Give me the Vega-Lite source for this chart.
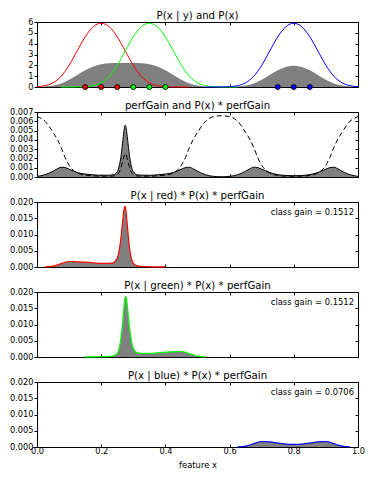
{
  "$schema": "https://vega.github.io/schema/vega-lite/v6.json",
  "padding": {"left": 9, "top": 10, "right": 5, "bottom": 5},
  "bounds": "flush",
  "spacing": 25,
  "config": {
    "font": "DejaVu Sans",
    "view": {"stroke": null},
    "axis": {"domain": true, "domainColor": "black", "domainWidth": 1, "zindex": 1, "grid": false, "tickColor": "black", "tickWidth": 1, "labelColor": "black", "labelFont": "DejaVu Sans", "labelFontSize": 8.2, "titleFont": "DejaVu Sans", "titleFontSize": 8.4, "titleFontWeight": "normal", "titleColor": "black", "labelFlush": false, "labelOverlap": false},
    "title": {"font": "DejaVu Sans", "fontSize": 10.2, "fontWeight": "normal", "color": "black", "anchor": "middle", "frame": "group", "offset": -4}
  },
  "datasets": {
    "dens": [
      {"x": 0, "px": 0.0101, "r": 0.0304, "g": 0, "b": 0},
      {"x": 0.025, "px": 0.0409, "r": 0.1227, "g": 0, "b": 0},
      {"x": 0.05, "px": 0.1301, "r": 0.3902, "g": 0, "b": 0},
      {"x": 0.075, "px": 0.3287, "r": 0.9862, "g": 0.0001, "b": 0},
      {"x": 0.1, "px": 0.6677, "r": 2.0024, "g": 0.0009, "b": 0},
      {"x": 0.125, "px": 1.1111, "r": 3.3274, "g": 0.0059, "b": 0},
      {"x": 0.15, "px": 1.5543, "r": 4.6325, "g": 0.0304, "b": 0},
      {"x": 0.175, "px": 1.8934, "r": 5.5578, "g": 0.1227, "b": 0},
      {"x": 0.2, "px": 2.0919, "r": 5.8857, "g": 0.3902, "b": 0},
      {"x": 0.225, "px": 2.1812, "r": 5.5578, "g": 0.9862, "b": 0},
      {"x": 0.25, "px": 2.2116, "r": 4.6325, "g": 2.0024, "b": 0},
      {"x": 0.275, "px": 2.2182, "r": 3.3274, "g": 3.3274, "b": 0},
      {"x": 0.3, "px": 2.2116, "r": 2.0024, "g": 4.6325, "b": 0},
      {"x": 0.325, "px": 2.1812, "r": 0.9862, "g": 5.5578, "b": 0},
      {"x": 0.35, "px": 2.0919, "r": 0.3902, "g": 5.8857, "b": 0},
      {"x": 0.375, "px": 1.8934, "r": 0.1227, "g": 5.5578, "b": 0},
      {"x": 0.4, "px": 1.5543, "r": 0.0304, "g": 4.6325, "b": 0},
      {"x": 0.425, "px": 1.1111, "r": 0.0059, "g": 3.3274, "b": 0},
      {"x": 0.45, "px": 0.6677, "r": 0.0009, "g": 2.0024, "b": 0},
      {"x": 0.475, "px": 0.3287, "r": 0.0001, "g": 0.9862, "b": 0},
      {"x": 0.5, "px": 0.1301, "r": 0, "g": 0.3902, "b": 0},
      {"x": 0.525, "px": 0.0409, "r": 0, "g": 0.1227, "b": 0.0001},
      {"x": 0.55, "px": 0.0104, "r": 0, "g": 0.0304, "b": 0.0009},
      {"x": 0.575, "px": 0.004, "r": 0, "g": 0.0059, "b": 0.0059},
      {"x": 0.6, "px": 0.0104, "r": 0, "g": 0.0009, "b": 0.0304},
      {"x": 0.625, "px": 0.0409, "r": 0, "g": 0.0001, "b": 0.1227},
      {"x": 0.65, "px": 0.1301, "r": 0, "g": 0, "b": 0.3902},
      {"x": 0.675, "px": 0.3287, "r": 0, "g": 0, "b": 0.9862},
      {"x": 0.7, "px": 0.6675, "r": 0, "g": 0, "b": 2.0024},
      {"x": 0.725, "px": 1.1091, "r": 0, "g": 0, "b": 3.3274},
      {"x": 0.75, "px": 1.5441, "r": 0, "g": 0, "b": 4.6325},
      {"x": 0.775, "px": 1.8525, "r": 0, "g": 0, "b": 5.5578},
      {"x": 0.8, "px": 1.9618, "r": 0, "g": 0, "b": 5.8857},
      {"x": 0.825, "px": 1.8525, "r": 0, "g": 0, "b": 5.5578},
      {"x": 0.85, "px": 1.5441, "r": 0, "g": 0, "b": 4.6325},
      {"x": 0.875, "px": 1.1091, "r": 0, "g": 0, "b": 3.3274},
      {"x": 0.9, "px": 0.6675, "r": 0, "g": 0, "b": 2.0024},
      {"x": 0.925, "px": 0.3287, "r": 0, "g": 0, "b": 0.9862},
      {"x": 0.95, "px": 0.1301, "r": 0, "g": 0, "b": 0.3902},
      {"x": 0.975, "px": 0.0409, "r": 0, "g": 0, "b": 0.1227},
      {"x": 1.0, "px": 0.0101, "r": 0, "g": 0, "b": 0.0304}
    ],
    "pts": [
      {"x": 0.15, "c": "r"}, {"x": 0.2, "c": "r"}, {"x": 0.25, "c": "r"},
      {"x": 0.3, "c": "g"}, {"x": 0.35, "c": "g"}, {"x": 0.4, "c": "g"},
      {"x": 0.75, "c": "b"}, {"x": 0.8, "c": "b"}, {"x": 0.85, "c": "b"}
    ],
    "gain": [
      {"x": 0, "pg": 0.0065, "gp": 0.000066, "rp": 0.000002, "gnp": 0, "bp": 0},
      {"x": 0.025, "pg": 0.006, "gp": 0.000245, "rp": 0.00003, "gnp": 0, "bp": 0},
      {"x": 0.05, "pg": 0.0048, "gp": 0.000624, "rp": 0.000244, "gnp": 0, "bp": 0},
      {"x": 0.0625, "pg": 0.0041, "gp": 0.000872, "rp": 0.000557, "gnp": 0, "bp": 0},
      {"x": 0.075, "pg": 0.0032, "gp": 0.001052, "rp": 0.001037, "gnp": 0, "bp": 0},
      {"x": 0.0875, "pg": 0.0021, "gp": 0.00101, "rp": 0.001457, "gnp": 0, "bp": 0},
      {"x": 0.1, "pg": 0.00127, "gp": 0.000848, "rp": 0.001698, "gnp": 0, "bp": 0},
      {"x": 0.125, "pg": 0.000433, "gp": 0.000481, "rp": 0.001601, "gnp": 0.000003, "bp": 0},
      {"x": 0.15, "pg": 0.000208, "gp": 0.000323, "rp": 0.001498, "gnp": 0.00001, "bp": 0},
      {"x": 0.175, "pg": 0.000124, "gp": 0.000235, "rp": 0.001305, "gnp": 0.000029, "bp": 0},
      {"x": 0.2, "pg": 0.000089, "gp": 0.000186, "rp": 0.001096, "gnp": 0.000073, "bp": 0},
      {"x": 0.225, "pg": 0.000091, "gp": 0.000198, "rp": 0.001103, "gnp": 0.000196, "bp": 0},
      {"x": 0.2375, "pg": 0.00011, "gp": 0.000242, "rp": 0.001249, "gnp": 0.000349, "bp": 0},
      {"x": 0.25, "pg": 0.00026, "gp": 0.000575, "rp": 0.00266, "gnp": 0.00115, "bp": 0},
      {"x": 0.2625, "pg": 0.0011, "gp": 0.00244, "rp": 0.00977, "gnp": 0.00645, "bp": 0},
      {"x": 0.2675, "pg": 0.00178, "gp": 0.00395, "rp": 0.01475, "gnp": 0.0115, "bp": 0},
      {"x": 0.27, "pg": 0.00212, "gp": 0.0047, "rp": 0.01693, "gnp": 0.01434, "bp": 0},
      {"x": 0.2725, "pg": 0.0024, "gp": 0.00532, "rp": 0.01844, "gnp": 0.01697, "bp": 0},
      {"x": 0.275, "pg": 0.00252, "gp": 0.00559, "rp": 0.0186, "gnp": 0.0186, "bp": 0},
      {"x": 0.2775, "pg": 0.0024, "gp": 0.00532, "rp": 0.01697, "gnp": 0.01844, "bp": 0},
      {"x": 0.28, "pg": 0.00212, "gp": 0.0047, "rp": 0.01434, "gnp": 0.01693, "bp": 0},
      {"x": 0.2825, "pg": 0.00178, "gp": 0.00395, "rp": 0.0115, "gnp": 0.01475, "bp": 0},
      {"x": 0.2875, "pg": 0.0011, "gp": 0.00244, "rp": 0.00645, "gnp": 0.00977, "bp": 0},
      {"x": 0.3, "pg": 0.00026, "gp": 0.000575, "rp": 0.00115, "gnp": 0.00266, "bp": 0},
      {"x": 0.3125, "pg": 0.00011, "gp": 0.000242, "rp": 0.000349, "gnp": 0.001249, "bp": 0},
      {"x": 0.325, "pg": 0.000091, "gp": 0.000198, "rp": 0.000196, "gnp": 0.001103, "bp": 0},
      {"x": 0.35, "pg": 0.000089, "gp": 0.000186, "rp": 0.000073, "gnp": 0.001096, "bp": 0},
      {"x": 0.375, "pg": 0.000124, "gp": 0.000235, "rp": 0.000029, "gnp": 0.001305, "bp": 0},
      {"x": 0.4, "pg": 0.000208, "gp": 0.000323, "rp": 0.00001, "gnp": 0.001498, "bp": 0},
      {"x": 0.425, "pg": 0.000433, "gp": 0.000481, "rp": 0.000003, "gnp": 0.001601, "bp": 0},
      {"x": 0.45, "pg": 0.00127, "gp": 0.000848, "rp": 0, "gnp": 0.001698, "bp": 0},
      {"x": 0.4625, "pg": 0.0021, "gp": 0.00101, "rp": 0, "gnp": 0.001457, "bp": 0},
      {"x": 0.475, "pg": 0.0032, "gp": 0.001052, "rp": 0, "gnp": 0.001037, "bp": 0},
      {"x": 0.4875, "pg": 0.0041, "gp": 0.000872, "rp": 0, "gnp": 0.000557, "bp": 0},
      {"x": 0.5, "pg": 0.0048, "gp": 0.000624, "rp": 0, "gnp": 0.000244, "bp": 0},
      {"x": 0.525, "pg": 0.006, "gp": 0.000245, "rp": 0, "gnp": 0.00003, "bp": 0},
      {"x": 0.55, "pg": 0.0065, "gp": 0.000068, "rp": 0, "gnp": 0.000002, "bp": 0.000002},
      {"x": 0.575, "pg": 0.0066, "gp": 0.000026, "rp": 0, "gnp": 0, "bp": 0},
      {"x": 0.6, "pg": 0.0065, "gp": 0.000068, "rp": 0, "gnp": 0, "bp": 0.000002},
      {"x": 0.625, "pg": 0.006, "gp": 0.000245, "rp": 0, "gnp": 0, "bp": 0.00003},
      {"x": 0.65, "pg": 0.0048, "gp": 0.000624, "rp": 0, "gnp": 0, "bp": 0.000244},
      {"x": 0.6625, "pg": 0.0041, "gp": 0.000872, "rp": 0, "gnp": 0, "bp": 0.000557},
      {"x": 0.675, "pg": 0.0032, "gp": 0.001052, "rp": 0, "gnp": 0, "bp": 0.001037},
      {"x": 0.6875, "pg": 0.0021, "gp": 0.00101, "rp": 0, "gnp": 0, "bp": 0.001457},
      {"x": 0.7, "pg": 0.00127, "gp": 0.000848, "rp": 0, "gnp": 0, "bp": 0.001697},
      {"x": 0.725, "pg": 0.000434, "gp": 0.000481, "rp": 0, "gnp": 0, "bp": 0.001602},
      {"x": 0.75, "pg": 0.000168, "gp": 0.000259, "rp": 0, "gnp": 0, "bp": 0.001202},
      {"x": 0.775, "pg": 0.0000874, "gp": 0.000162, "rp": 0, "gnp": 0, "bp": 0.0009},
      {"x": 0.8, "pg": 0.0000693, "gp": 0.000136, "rp": 0, "gnp": 0, "bp": 0.0008},
      {"x": 0.825, "pg": 0.0000874, "gp": 0.000162, "rp": 0, "gnp": 0, "bp": 0.0009},
      {"x": 0.85, "pg": 0.000168, "gp": 0.000259, "rp": 0, "gnp": 0, "bp": 0.001202},
      {"x": 0.875, "pg": 0.000434, "gp": 0.000481, "rp": 0, "gnp": 0, "bp": 0.001602},
      {"x": 0.9, "pg": 0.00127, "gp": 0.000848, "rp": 0, "gnp": 0, "bp": 0.001697},
      {"x": 0.9125, "pg": 0.0021, "gp": 0.00101, "rp": 0, "gnp": 0, "bp": 0.001457},
      {"x": 0.925, "pg": 0.0032, "gp": 0.001052, "rp": 0, "gnp": 0, "bp": 0.001037},
      {"x": 0.9375, "pg": 0.0041, "gp": 0.000872, "rp": 0, "gnp": 0, "bp": 0.000557},
      {"x": 0.95, "pg": 0.0048, "gp": 0.000624, "rp": 0, "gnp": 0, "bp": 0.000244},
      {"x": 0.975, "pg": 0.006, "gp": 0.000245, "rp": 0, "gnp": 0, "bp": 0.00003},
      {"x": 1.0, "pg": 0.0065, "gp": 0.000066, "rp": 0, "gnp": 0, "bp": 0.000002}
    ]
  },
  "vconcat": [
    {
      "title": "P(x | y) and P(x)",
      "width": 321, "height": 65,
      "data": {"name": "dens"},
      "resolve": {"axis": {"x": "independent", "y": "independent"}},
      "layer": [
        {"mark": {"type": "area", "color": "#808080", "interpolate": "monotone"},
         "encoding": {
           "x": {"field": "x", "type": "quantitative", "scale": {"domain": [0, 1], "nice": false}, "axis": {"orient": "bottom", "values": [0, 0.2, 0.4, 0.6, 0.8, 1], "labels": false, "title": null, "tickSize": -3}},
           "y": {"field": "px", "type": "quantitative", "scale": {"domain": [0, 6], "nice": false}, "axis": {"orient": "left", "values": [0, 1, 2, 3, 4, 5, 6], "format": "d", "tickSize": 3, "labelPadding": 1, "title": null}}}},
        {"transform": [{"filter": "datum.r > 0.00005"}],
         "mark": {"type": "line", "color": "#ff0000", "strokeWidth": 1, "interpolate": "monotone"},
         "encoding": {
           "x": {"field": "x", "type": "quantitative", "axis": {"orient": "top", "values": [0, 0.2, 0.4, 0.6, 0.8, 1], "labels": false, "title": null, "tickSize": -3}},
           "y": {"field": "r", "type": "quantitative", "axis": {"orient": "right", "values": [0, 1, 2, 3, 4, 5, 6], "labels": false, "title": null, "tickSize": -3}}}},
        {"transform": [{"filter": "datum.g > 0.00005"}],
         "mark": {"type": "line", "color": "#00ff00", "strokeWidth": 1, "interpolate": "monotone"},
         "encoding": {
           "x": {"field": "x", "type": "quantitative", "axis": null},
           "y": {"field": "g", "type": "quantitative", "axis": null}}},
        {"transform": [{"filter": "datum.b > 0.00005"}],
         "mark": {"type": "line", "color": "#0000ff", "strokeWidth": 1, "interpolate": "monotone"},
         "encoding": {
           "x": {"field": "x", "type": "quantitative", "axis": null},
           "y": {"field": "b", "type": "quantitative", "axis": null}}},
        {"data": {"name": "pts"},
         "mark": {"type": "point", "filled": true, "size": 26, "stroke": "black", "strokeWidth": 0.8, "opacity": 1, "clip": false},
         "encoding": {
           "x": {"field": "x", "type": "quantitative", "axis": null},
           "y": {"datum": 0, "axis": null},
           "fill": {"field": "c", "type": "nominal", "scale": {"domain": ["r", "g", "b"], "range": ["#ff0000", "#00ff00", "#0000ff"]}, "legend": null}}}
      ]
    },
    {
      "title": "perfGain and P(x) * perfGain",
      "width": 321, "height": 65,
      "data": {"name": "gain"},
      "resolve": {"axis": {"x": "independent", "y": "independent"}},
      "layer": [
        {"mark": {"type": "area", "color": "#808080", "interpolate": "monotone"},
         "encoding": {
           "x": {"field": "x", "type": "quantitative", "scale": {"domain": [0, 1], "nice": false}, "axis": {"orient": "bottom", "values": [0, 0.2, 0.4, 0.6, 0.8, 1], "labels": false, "title": null, "tickSize": -3}},
           "y": {"field": "gp", "type": "quantitative", "scale": {"domain": [0, 0.007], "nice": false}, "axis": {"orient": "left", "values": [0, 0.001, 0.002, 0.003, 0.004, 0.005, 0.006, 0.007], "format": ".3f", "tickSize": 3, "labelPadding": 1, "title": null}}}},
        {"mark": {"type": "line", "color": "black", "strokeWidth": 1, "interpolate": "monotone"},
         "encoding": {
           "x": {"field": "x", "type": "quantitative", "axis": {"orient": "top", "values": [0, 0.2, 0.4, 0.6, 0.8, 1], "labels": false, "title": null, "tickSize": -3}},
           "y": {"field": "gp", "type": "quantitative", "axis": {"orient": "right", "values": [0, 0.001, 0.002, 0.003, 0.004, 0.005, 0.006, 0.007], "labels": false, "title": null, "tickSize": -3}}}},
        {"mark": {"type": "line", "color": "black", "strokeWidth": 1, "strokeDash": [5, 3], "interpolate": "monotone"},
         "encoding": {
           "x": {"field": "x", "type": "quantitative", "axis": null},
           "y": {"field": "pg", "type": "quantitative", "axis": null}}}
      ]
    },
    {
      "title": "P(x | red) * P(x) * perfGain",
      "width": 321, "height": 65,
      "data": {"name": "gain"},
      "resolve": {"axis": {"x": "independent", "y": "independent"}},
      "layer": [
        {"mark": {"type": "area", "color": "#808080", "interpolate": "monotone"},
         "encoding": {
           "x": {"field": "x", "type": "quantitative", "scale": {"domain": [0, 1], "nice": false}, "axis": {"orient": "bottom", "values": [0, 0.2, 0.4, 0.6, 0.8, 1], "labels": false, "title": null, "tickSize": -3}},
           "y": {"field": "rp", "type": "quantitative", "scale": {"domain": [0, 0.02], "nice": false}, "axis": {"orient": "left", "values": [0, 0.005, 0.01, 0.015, 0.02], "format": ".3f", "tickSize": 3, "labelPadding": 1, "title": null}}}},
        {"transform": [{"filter": "datum.rp > 0.000005"}],
         "mark": {"type": "line", "color": "#ff0000", "strokeWidth": 1.2, "interpolate": "monotone"},
         "encoding": {
           "x": {"field": "x", "type": "quantitative", "axis": {"orient": "top", "values": [0, 0.2, 0.4, 0.6, 0.8, 1], "labels": false, "title": null, "tickSize": -3}},
           "y": {"field": "rp", "type": "quantitative", "axis": {"orient": "right", "values": [0, 0.005, 0.01, 0.015, 0.02], "labels": false, "title": null, "tickSize": -3}}}},
        {"data": {"values": [{"label": "class gain = 0.1512"}]},
         "mark": {"type": "text", "align": "right", "baseline": "middle", "fontSize": 8.4, "font": "DejaVu Sans", "color": "black"},
         "encoding": {
           "x": {"datum": 0.9875, "axis": null},
           "y": {"datum": 0.0169, "axis": null},
           "text": {"field": "label"}}}
      ]
    },
    {
      "title": "P(x | green) * P(x) * perfGain",
      "width": 321, "height": 65,
      "data": {"name": "gain"},
      "resolve": {"axis": {"x": "independent", "y": "independent"}},
      "layer": [
        {"mark": {"type": "area", "color": "#808080", "interpolate": "monotone"},
         "encoding": {
           "x": {"field": "x", "type": "quantitative", "scale": {"domain": [0, 1], "nice": false}, "axis": {"orient": "bottom", "values": [0, 0.2, 0.4, 0.6, 0.8, 1], "labels": false, "title": null, "tickSize": -3}},
           "y": {"field": "gnp", "type": "quantitative", "scale": {"domain": [0, 0.02], "nice": false}, "axis": {"orient": "left", "values": [0, 0.005, 0.01, 0.015, 0.02], "format": ".3f", "tickSize": 3, "labelPadding": 1, "title": null}}}},
        {"transform": [{"filter": "datum.gnp > 0.000005"}],
         "mark": {"type": "line", "color": "#00ff00", "strokeWidth": 1.2, "interpolate": "monotone"},
         "encoding": {
           "x": {"field": "x", "type": "quantitative", "axis": {"orient": "top", "values": [0, 0.2, 0.4, 0.6, 0.8, 1], "labels": false, "title": null, "tickSize": -3}},
           "y": {"field": "gnp", "type": "quantitative", "axis": {"orient": "right", "values": [0, 0.005, 0.01, 0.015, 0.02], "labels": false, "title": null, "tickSize": -3}}}},
        {"data": {"values": [{"label": "class gain = 0.1512"}]},
         "mark": {"type": "text", "align": "right", "baseline": "middle", "fontSize": 8.4, "font": "DejaVu Sans", "color": "black"},
         "encoding": {
           "x": {"datum": 0.9875, "axis": null},
           "y": {"datum": 0.0169, "axis": null},
           "text": {"field": "label"}}}
      ]
    },
    {
      "title": "P(x | blue) * P(x) * perfGain",
      "width": 321, "height": 65,
      "data": {"name": "gain"},
      "resolve": {"axis": {"x": "independent", "y": "independent"}},
      "layer": [
        {"mark": {"type": "area", "color": "#808080", "interpolate": "monotone"},
         "encoding": {
           "x": {"field": "x", "type": "quantitative", "scale": {"domain": [0, 1], "nice": false}, "axis": {"orient": "bottom", "values": [0, 0.2, 0.4, 0.6, 0.8, 1], "format": ".1f", "tickSize": -3, "labelPadding": 3, "title": "feature x", "titlePadding": 6}},
           "y": {"field": "bp", "type": "quantitative", "scale": {"domain": [0, 0.02], "nice": false}, "axis": {"orient": "left", "values": [0, 0.005, 0.01, 0.015, 0.02], "format": ".3f", "tickSize": 3, "labelPadding": 1, "title": null}}}},
        {"transform": [{"filter": "datum.bp > 0.000005"}],
         "mark": {"type": "line", "color": "#0000ff", "strokeWidth": 1.2, "interpolate": "monotone"},
         "encoding": {
           "x": {"field": "x", "type": "quantitative", "axis": {"orient": "top", "values": [0, 0.2, 0.4, 0.6, 0.8, 1], "labels": false, "title": null, "tickSize": -3}},
           "y": {"field": "bp", "type": "quantitative", "axis": {"orient": "right", "values": [0, 0.005, 0.01, 0.015, 0.02], "labels": false, "title": null, "tickSize": -3}}}},
        {"data": {"values": [{"label": "class gain = 0.0706"}]},
         "mark": {"type": "text", "align": "right", "baseline": "middle", "fontSize": 8.4, "font": "DejaVu Sans", "color": "black"},
         "encoding": {
           "x": {"datum": 0.9875, "axis": null},
           "y": {"datum": 0.0169, "axis": null},
           "text": {"field": "label"}}}
      ]
    }
  ]
}
